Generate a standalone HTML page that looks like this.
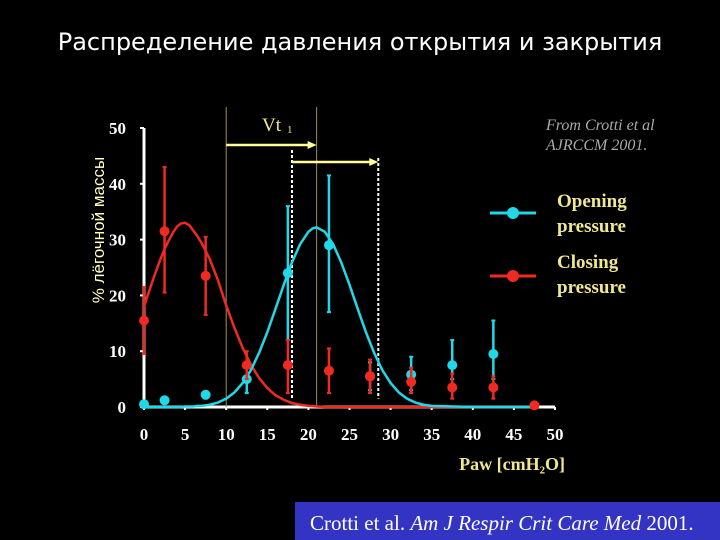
<!DOCTYPE html>
<html><head><meta charset="utf-8"><style>
body{margin:0;background:#000;width:720px;height:540px;overflow:hidden;position:relative;font-family:"Liberation Sans",sans-serif}
.t{position:absolute;white-space:nowrap}
</style></head><body>
<div class="t" style="left:0;width:720px;text-align:center;top:28px;color:#fff;font-size:24px;font-family:'DejaVu Sans',sans-serif">Распределение давления открытия и закрытия</div>
<svg id="c" width="720" height="540" style="position:absolute;left:0;top:0"></svg>
<div style="position:absolute;left:295px;top:502px;width:425px;height:38px;background:#3434c4"></div>
<div class="t" style="left:310px;top:511px;color:#fff;font-family:'Liberation Serif',serif;font-size:21px">Crotti et al. <i>Am J Respir Crit Care Med</i> 2001.</div>
<script>
const xCats=[0,2.5,7.5,12.5,17.5,22.5,27.5,32.5,37.5,42.5];
const openVals=[0.5,1.2,2.2,5,24,29,5.5,5.8,7.5,9.5];
const openLo=[0.5,1.2,1.5,2.5,12,17,3,3,5,5];
const openHi=[0.5,1.2,2.8,8,36,41.5,8,9,12,15.5];
const closeX=[0,2.5,7.5,12.5,17.5,22.5,27.5,32.5,37.5,42.5,47.5];
const closeVals=[15.5,31.5,23.5,7.5,7.5,6.5,5.5,4.5,3.5,3.5,0.3];
const closeLo=[9.5,20.5,16.5,5,2.5,2.5,2.5,2.5,1.5,1.5,0.3];
const closeHi=[21.5,43,30.5,10,12,10.5,8.5,7,6,5.5,0.3];
const curveX=[0,0.5,1,1.5,2,2.5,3,3.5,4,4.5,5,5.5,6,6.5,7,7.5,8,9,10,11,12,13,14,15,16,17,18,19,20,20.5,21,22,23,24,25,26,27,28,29,30,31,32,33,34,35,40,48];
const closeCurve=[18,20.2,22.4,24.5,26.5,28.3,29.8,31.2,32.3,32.9,33,32.6,31.6,30.6,29.4,28,26.5,22.7,18.2,14.2,10.6,7.6,5.2,3.4,2.1,1.3,0.7,0.4,0.2,0.15,0.1,0,0,0,0,0,0,0,0,0,0,0,0,0,0,0,0];
const openCurve=[0,0,0,0,0,0,0,0,0,0,0.1,0.1,0.1,0.2,0.2,0.3,0.4,0.8,1.5,2.6,4.3,6.6,9.7,13.4,17.6,21.9,25.9,29.2,31.4,32,32.2,31.4,29.2,25.9,21.9,17.6,13.4,9.7,6.6,4.3,2.6,1.5,0.8,0.4,0.2,0,0];
const xTicks=[0,5,10,15,20,25,30,35,40,45,50];
const yTicks=[0,10,20,30,40,50];
const X=v=>144+v*8.22, Y=v=>407-v*5.58;
const s=document.getElementById('c'),NS='http://www.w3.org/2000/svg';
function mk(t,a,p){const e=document.createElementNS(NS,t);for(const k in a)e.setAttribute(k,a[k]);(p||s).appendChild(e);return e;}
let e=mk('line',{x1:X(0),y1:Y(0),x2:X(50),y2:Y(0),stroke:'#fff','stroke-width':3});

e=mk('line',{x1:X(0),y1:Y(0),x2:X(0),y2:Y(50),stroke:'#fff','stroke-width':3});

xTicks.forEach(v=>{
 mk('line',{x1:X(v),y1:Y(0),x2:X(v),y2:Y(0)+3,stroke:'#fff','stroke-width':2});
 const t=mk('text',{x:X(v),y:440,fill:'#fff','font-family':'Liberation Serif','font-weight':'bold','font-size':17,'text-anchor':'middle'});t.textContent=v;
 
});
yTicks.forEach(v=>{
 mk('line',{x1:X(0)-4,y1:Y(v),x2:X(0),y2:Y(v),stroke:'#fff','stroke-width':2});
 const t=mk('text',{x:126,y:Y(v)+6,fill:'#fff','font-family':'Liberation Serif','font-weight':'bold','font-size':17,'text-anchor':'end'});t.textContent=v;
 
});
e=mk('text',{x:0,y:0,fill:'#ffffc0','font-size':17,'text-anchor':'middle',transform:'translate(104,230) rotate(-90)'});e.textContent='% лёгочной массы';

e=mk('text',{x:565,y:470,fill:'#f0e890','font-family':'Liberation Serif','font-weight':'bold','font-size':18,'text-anchor':'end'});e.textContent='Paw [cmH₂O]';

[10,21].forEach(v=>mk('line',{x1:X(v),y1:107,x2:X(v),y2:Y(0),stroke:'#a09050','stroke-width':1}));
mk('line',{x1:X(18),y1:150,x2:X(18),y2:Y(1.5),stroke:'#fff','stroke-width':2,'stroke-dasharray':'3,2'});
mk('line',{x1:X(28.5),y1:158,x2:X(28.5),y2:Y(1.5),stroke:'#fff','stroke-width':2,'stroke-dasharray':'3,2'});
mk('line',{x1:X(10),y1:145,x2:X(21)-6,y2:145,stroke:'#ffff99','stroke-width':2.5});
mk('path',{d:`M${X(21)} 145 l-9 -4 v8z`,fill:'#ffff99'});
mk('line',{x1:X(18),y1:162,x2:X(28.5)-6,y2:162,stroke:'#ffff99','stroke-width':2.5});
mk('path',{d:`M${X(28.5)} 162 l-9 -4 v8z`,fill:'#ffff99'});
e=mk('text',{x:262,y:131,fill:'#f0e890','font-family':'Liberation Serif','font-size':19});e.textContent='Vt';
mk('text',{x:287,y:133,fill:'#f0e890','font-family':'Liberation Serif','font-size':11}).textContent='1';
function curve(vals,col,name){let d='';curveX.forEach((x,i)=>d+=(i?'L':'M')+X(x)+' '+Y(vals[i]));
 const p=mk('path',{d:d,fill:'none',stroke:col,'stroke-width':2.5,'stroke-linejoin':'round'});}
curve(closeCurve,'#ee2a22','closing-curve');
curve(openCurve,'#20d8e8','opening-curve');
function pts(xs,v,lo,hi,col,name){xs.forEach((x,i)=>{
 mk('line',{x1:X(x),y1:Y(lo[i]),x2:X(x),y2:Y(hi[i]),stroke:col,'stroke-width':2.5});
 mk('line',{x1:X(x)-2,y1:Y(lo[i]),x2:X(x)+2,y2:Y(lo[i]),stroke:col,'stroke-width':2});
 mk('line',{x1:X(x)-2,y1:Y(hi[i]),x2:X(x)+2,y2:Y(hi[i]),stroke:col,'stroke-width':2});
 const c=mk('circle',{cx:X(x),cy:Y(v[i]),r:5,fill:col});});}
pts(xCats,openVals,openLo,openHi,'#20d8e8','opening-point');
pts(closeX,closeVals,closeLo,closeHi,'#ee2a22','closing-point');
mk('line',{x1:490,y1:213,x2:536,y2:213,stroke:'#20d8e8','stroke-width':3});
e=mk('circle',{cx:513,cy:213,r:6,fill:'#20d8e8'});
mk('line',{x1:490,y1:276,x2:536,y2:276,stroke:'#ee2a22','stroke-width':3});
e=mk('circle',{cx:513,cy:276,r:6,fill:'#ee2a22'});
[['Opening',207],['pressure',232],['Closing',268],['pressure',293]].forEach(a=>{
 const t=mk('text',{x:557,y:a[1],fill:'#f0e890','font-family':'Liberation Serif','font-weight':'bold','font-size':19});t.textContent=a[0];
 });
[['From Crotti et al',130],['AJRCCM 2001.',150]].forEach(a=>{
 const t=mk('text',{x:546,y:a[1],fill:'#aaa','font-family':'Liberation Serif','font-style':'italic','font-size':16});t.textContent=a[0];
 });
</script>
</body></html>
